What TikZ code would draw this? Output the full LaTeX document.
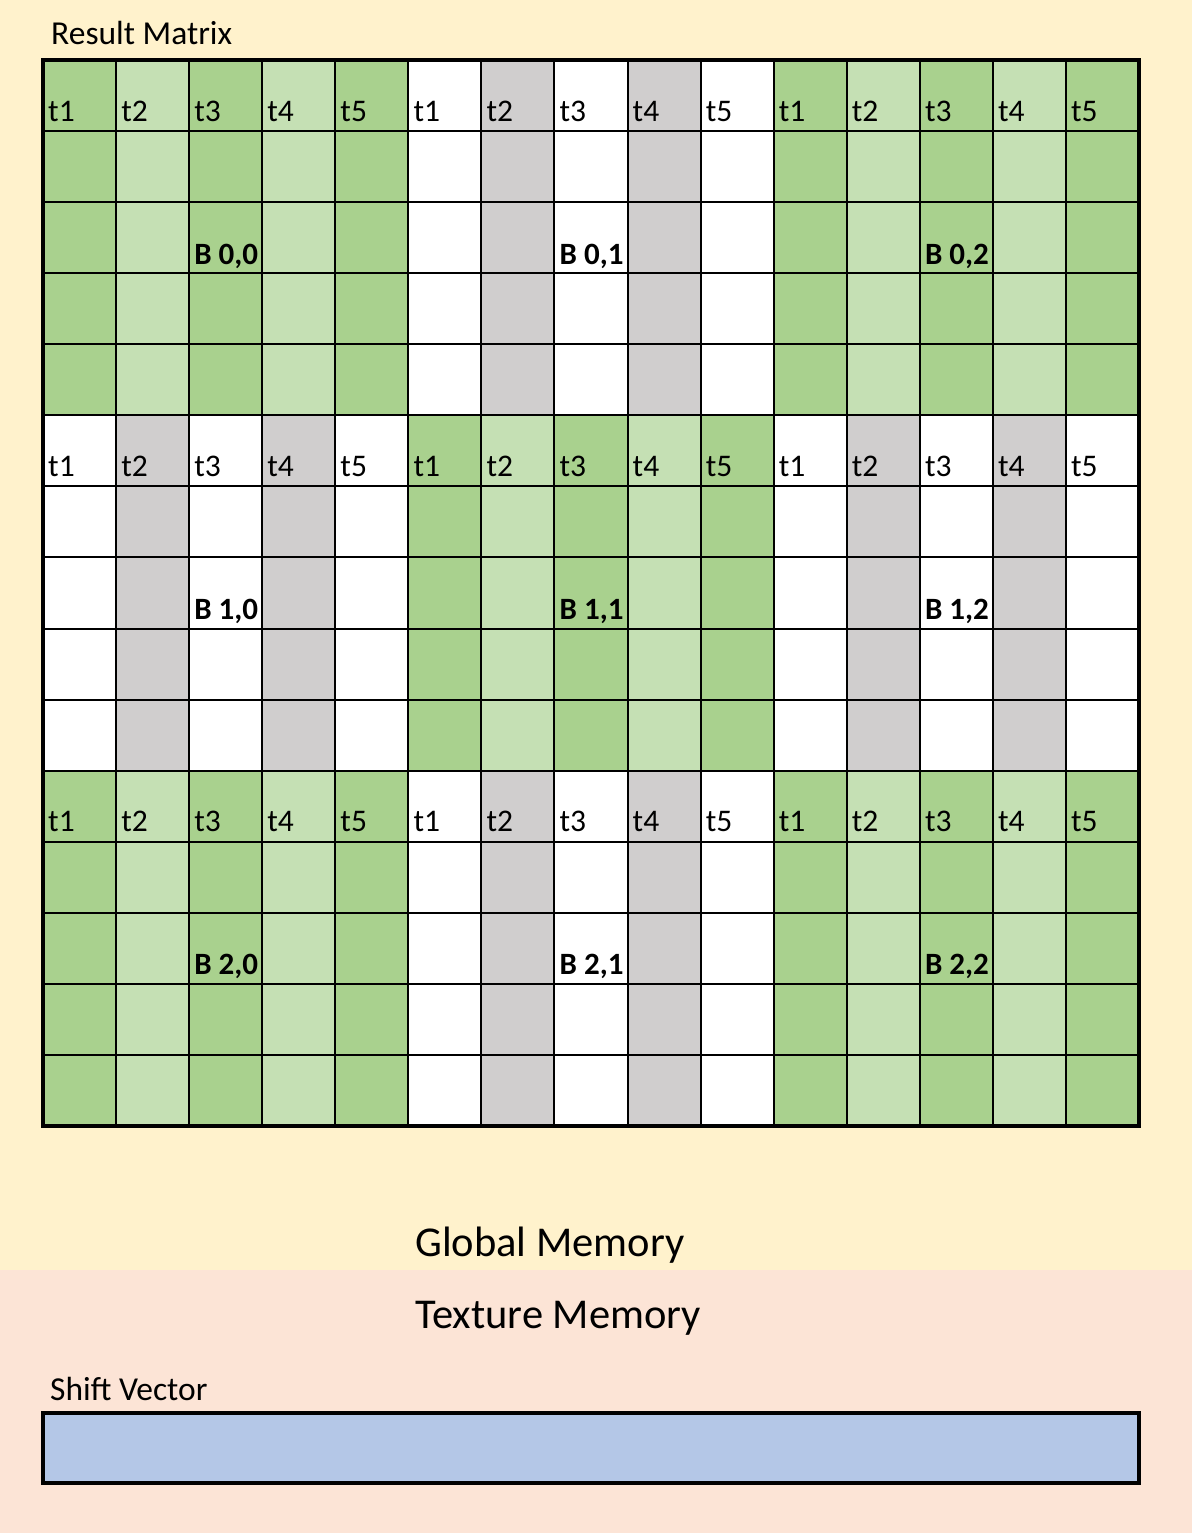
\documentclass[tikz,border=0pt]{standalone}
\usepackage{fontspec}
\setmainfont{Carlito}
\definecolor{bgtop}{HTML}{FFF2CC}
\definecolor{bgbot}{HTML}{FCE4D6}
\definecolor{dkg}{HTML}{A9D18E}
\definecolor{ltg}{HTML}{C5E0B4}
\definecolor{gry}{HTML}{D0CECE}
\definecolor{svblue}{HTML}{B4C7E7}
\tikzset{
  gridline/.style={line width=2pt, black},
  outerline/.style={line width=4pt, black},
  celllab/.style={anchor=base west, inner sep=0pt, font=\fontsize{31.5}{37}\selectfont},
  blocklab/.style={anchor=base west, inner sep=0pt, font=\fontsize{31}{37}\selectfont\bfseries},
  titlelab/.style={anchor=base west, inner sep=0pt, font=\fontsize{33.5}{40}\selectfont},
  memlab/.style={anchor=base west, inner sep=0pt, font=\fontsize{42.5}{50}\selectfont},
  svbox/.style={draw, line width=4pt, fill=svblue, anchor=north west, minimum width=1096pt, minimum height=70pt, inner sep=0pt, outer sep=0pt}
}
\begin{document}
\begin{tikzpicture}[x=1pt,y=-1pt]
\fill[bgtop] (0,0) rectangle (1192,1270);
\fill[bgbot] (0,1270) rectangle (1192,1533);
\useasboundingbox (0,0) rectangle (1192,1533);
\def\cw{73.0667}
\def\rh{71.0667}
% cell fills
\foreach \bi in {0,1,2}{
  \foreach \bj in {0,1,2}{
    \foreach \k in {0,...,4}{
      \pgfmathtruncatemacro\blkp{mod(\bi+\bj,2)}
      \pgfmathtruncatemacro\colp{mod(\k,2)}
      \pgfmathtruncatemacro\code{2*\blkp+\colp}
      \ifnum\code=0 \def\cc{dkg}\fi
      \ifnum\code=1 \def\cc{ltg}\fi
      \ifnum\code=2 \def\cc{white}\fi
      \ifnum\code=3 \def\cc{gry}\fi
      \fill[\cc] ({43+(5*\bj+\k)*\cw},{60+5*\bi*\rh}) rectangle ++(\cw,{5*\rh});
      \pgfmathtruncatemacro\kk{\k+1}
      \node[celllab] (t-\bi-\bj-\kk) at ({43+(5*\bj+\k)*\cw+5},{60+(5*\bi+1)*\rh-10}) {t\kk};
    }
    \node[blocklab] (B-\bi-\bj) at ({43+(5*\bj+2)*\cw+5},{60+(5*\bi+3)*\rh-9}) {B \bi,\bj};
  }
}
% grid lines
\foreach \i in {1,...,14}{
  \draw[gridline] ({43+\i*\cw},60) -- ({43+\i*\cw},1126);
  \draw[gridline] (43,{60+\i*\rh}) -- (1139,{60+\i*\rh});
}
\draw[outerline] (43,60) rectangle (1139,1126);
% texts
\node[titlelab] (rm) at (51,45) {Result Matrix};
\node[memlab] (gm) at (415,1256) {Global Memory};
\node[memlab] (tm) at (415,1328) {Texture Memory};
\node[titlelab] (svl) at (50,1400) {Shift Vector};
\node[svbox] (sv) at (43,1413) {};
\end{tikzpicture}
\end{document}
